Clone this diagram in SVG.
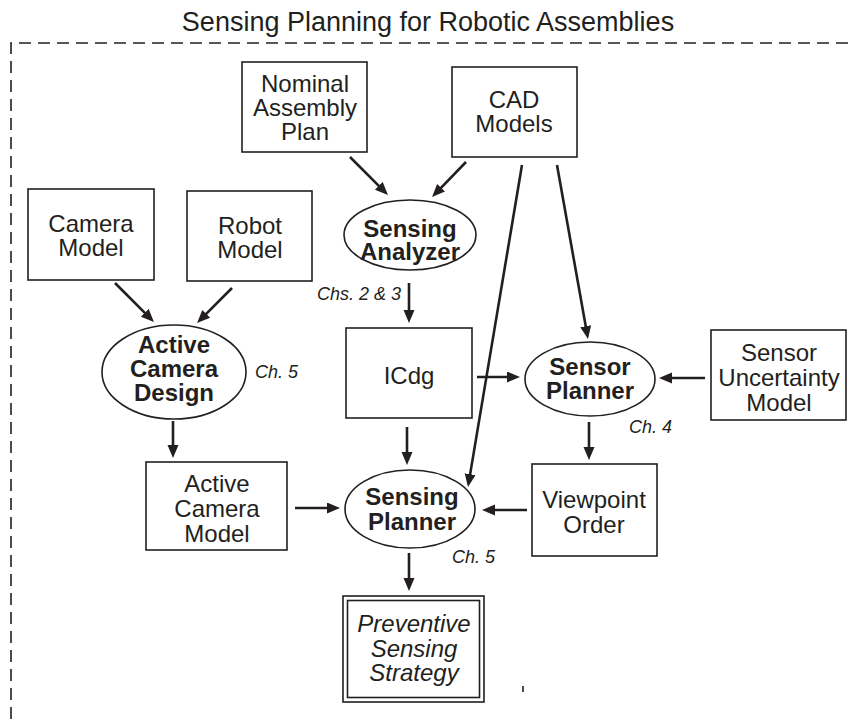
<svg xmlns="http://www.w3.org/2000/svg" width="850" height="719" viewBox="0 0 850 719">
  <style>
    text { font-family: "Liberation Sans", Arial, sans-serif; fill: #231f20; text-anchor: middle; }
    .lbl { font-size: 24px; }
    .proc { font-size: 24px; font-weight: bold; }
    .out { font-size: 24px; font-style: italic; }
    .ch { font-size: 18px; font-style: italic; text-anchor: start; }
    .title { font-size: 27px; }
    .box { fill: #fff; stroke: #231f20; stroke-width: 1.6; }
    .oval { fill: #fff; stroke: #231f20; stroke-width: 1.6; }
    .frame { fill: none; stroke: #231f20; stroke-width: 1.6; stroke-dasharray: 12 7; }
    .edge { fill: none; stroke: #231f20; stroke-width: 2.6; marker-end: url(#head); }
  </style>
  <defs>
    <marker id="head" markerUnits="userSpaceOnUse" markerWidth="14" markerHeight="12" refX="5" refY="5.5" orient="auto">
      <path d="M0,0 L13,5.5 L0,11 Z" fill="#231f20"/>
    </marker>
  </defs>

  <rect width="850" height="719" fill="#fff"/>

  <!-- title and dashed system boundary -->
  <text class="title" x="428" y="31">Sensing Planning for Robotic Assemblies</text>
  <path class="frame" d="M11,719 L11,43 L850,43"/>

  <!-- inputs -->
  <g id="nominal-plan">
    <rect class="box" x="242" y="62" width="125" height="90"/>
    <text class="lbl" x="305" y="92">Nominal</text>
    <text class="lbl" x="305" y="116">Assembly</text>
    <text class="lbl" x="305" y="140">Plan</text>
  </g>
  <g id="cad-models">
    <rect class="box" x="452" y="67" width="125" height="90"/>
    <text class="lbl" x="514" y="108">CAD</text>
    <text class="lbl" x="514" y="132">Models</text>
  </g>
  <g id="camera-model">
    <rect class="box" x="28" y="189" width="126" height="91"/>
    <text class="lbl" x="91" y="232">Camera</text>
    <text class="lbl" x="91" y="256">Model</text>
  </g>
  <g id="robot-model">
    <rect class="box" x="187" y="191" width="125" height="90"/>
    <text class="lbl" x="250" y="234">Robot</text>
    <text class="lbl" x="250" y="258">Model</text>
  </g>
  <g id="sensor-uncertainty">
    <rect class="box" x="711" y="330" width="135" height="90"/>
    <text class="lbl" x="779" y="361">Sensor</text>
    <text class="lbl" x="779" y="386">Uncertainty</text>
    <text class="lbl" x="779" y="411">Model</text>
  </g>

  <!-- processes -->
  <g id="sensing-analyzer">
    <ellipse class="oval" cx="410" cy="235" rx="66" ry="35"/>
    <text class="proc" x="410" y="237">Sensing</text>
    <text class="proc" x="410" y="260">Analyzer</text>
    <text class="ch" x="317" y="300">Chs. 2 &amp; 3</text>
  </g>
  <g id="active-camera-design">
    <ellipse class="oval" cx="174" cy="372" rx="72" ry="47"/>
    <text class="proc" x="174" y="353">Active</text>
    <text class="proc" x="174" y="377">Camera</text>
    <text class="proc" x="174" y="401">Design</text>
    <text class="ch" x="255" y="378">Ch. 5</text>
  </g>
  <g id="sensor-planner">
    <ellipse class="oval" cx="590" cy="379" rx="65" ry="37"/>
    <text class="proc" x="590" y="375">Sensor</text>
    <text class="proc" x="590" y="399">Planner</text>
    <text class="ch" x="629" y="433">Ch. 4</text>
  </g>
  <g id="sensing-planner">
    <ellipse class="oval" cx="410" cy="509" rx="65" ry="39"/>
    <text class="proc" x="412" y="505">Sensing</text>
    <text class="proc" x="412" y="530">Planner</text>
    <text class="ch" x="452" y="563">Ch. 5</text>
  </g>

  <!-- intermediate data -->
  <g id="icdg">
    <rect class="box" x="346" y="328" width="126" height="90"/>
    <text class="lbl" x="409" y="384">ICdg</text>
  </g>
  <g id="active-camera-model">
    <rect class="box" x="146" y="462" width="141" height="88"/>
    <text class="lbl" x="217" y="492">Active</text>
    <text class="lbl" x="217" y="517">Camera</text>
    <text class="lbl" x="217" y="542">Model</text>
  </g>
  <g id="viewpoint-order">
    <rect class="box" x="532" y="464" width="125" height="92"/>
    <text class="lbl" x="594" y="508">Viewpoint</text>
    <text class="lbl" x="594" y="533">Order</text>
  </g>

  <!-- result -->
  <g id="sensing-strategy">
    <rect class="box" x="343" y="596" width="141" height="106" stroke-width="2"/>
    <rect class="box" x="347.5" y="600.5" width="132" height="97"/>
    <text class="out" x="414" y="632">Preventive</text>
    <text class="out" x="414" y="657">Sensing</text>
    <text class="out" x="414" y="681">Strategy</text>
  </g>

  <!-- connectors -->
  <g id="connectors">
    <line class="edge" x1="350" y1="157" x2="382.3" y2="189.3"/>
    <line class="edge" x1="466" y1="162" x2="437.6" y2="191.3"/>
    <line class="edge" x1="115" y1="283" x2="148.3" y2="316.3"/>
    <line class="edge" x1="232" y1="288" x2="202.7" y2="317.3"/>
    <line class="edge" x1="409" y1="283" x2="409" y2="315"/>
    <line class="edge" x1="557" y1="165" x2="586.6" y2="331.1"/>
    <line class="edge" x1="522" y1="165" x2="469.3" y2="479.1"/>
    <line class="edge" x1="477" y1="377" x2="512" y2="377"/>
    <line class="edge" x1="705" y1="378" x2="667" y2="378"/>
    <line class="edge" x1="173" y1="421" x2="173" y2="450"/>
    <line class="edge" x1="407" y1="427" x2="407" y2="457"/>
    <line class="edge" x1="589" y1="422" x2="589" y2="452"/>
    <line class="edge" x1="295" y1="508" x2="332" y2="508"/>
    <line class="edge" x1="527" y1="510" x2="490" y2="510"/>
    <line class="edge" x1="409" y1="553" x2="409" y2="583"/>
  </g>

  <!-- stray tick -->
  <line x1="523" y1="686" x2="523" y2="692" stroke="#231f20" stroke-width="1.6"/>
</svg>
